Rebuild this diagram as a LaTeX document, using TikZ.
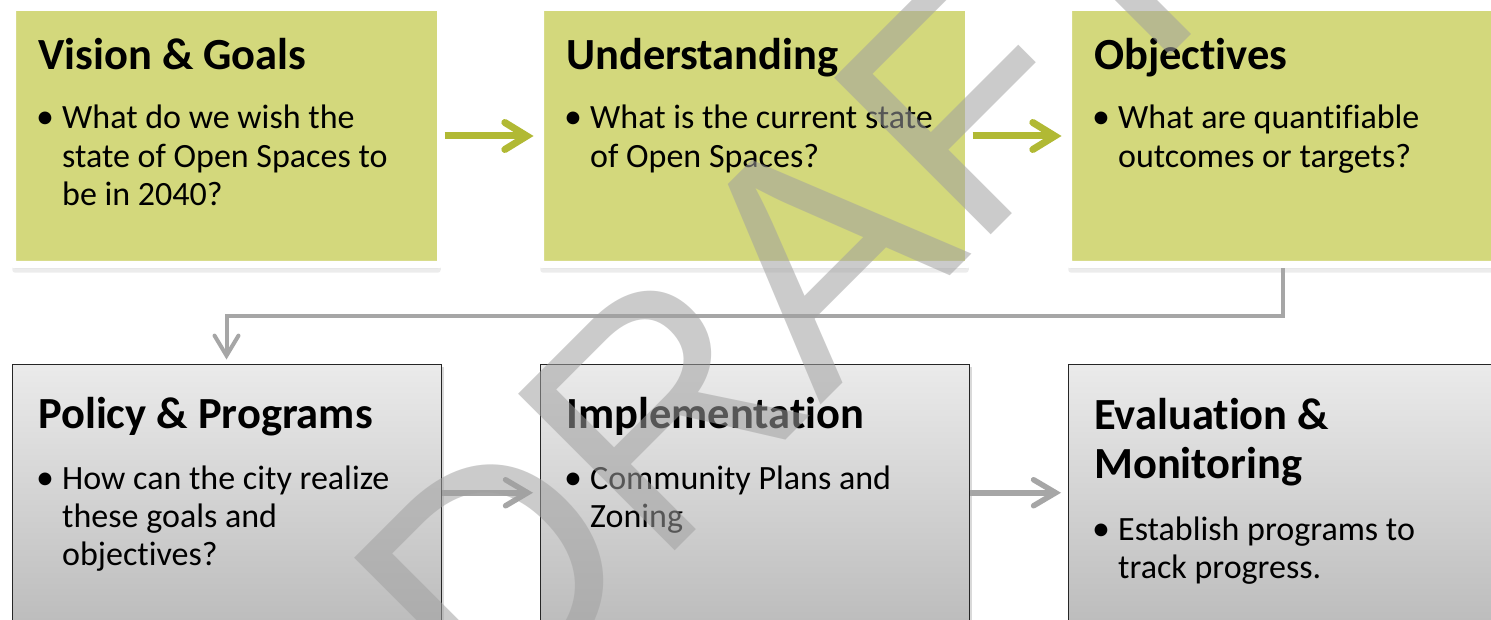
\documentclass[tikz,border=0pt]{standalone}
\usepackage{fontspec}
\setmainfont{Carlito}[Ligatures=NoCommon]
\newfontfamily\draftfont{Liberation Sans}
\usetikzlibrary{arrows.meta,shadows}
\definecolor{boxgreen}{RGB}{211,216,124}
\definecolor{arrowgreen}{RGB}{177,185,52}
\definecolor{arrowgray}{RGB}{166,166,166}
\definecolor{draftgray}{RGB}{160,160,160}

\begin{document}
\begin{tikzpicture}[x=1pt,y=-1pt,
		greenbox/.style={draw=white,line width=7.5pt,fill=boxgreen,rounded corners=3pt,inner sep=0pt,
			minimum width=428.5pt,minimum height=257.5pt,
			drop shadow={shadow xshift=0pt,shadow yshift=-4pt,opacity=.2,fill=black!60},
			drop shadow={shadow xshift=0pt,shadow yshift=-8pt,opacity=.12,fill=black!60}},
		graybox/.style={draw=black!85,line width=1pt,top color=black!8,bottom color=black!26,inner sep=0pt,
			minimum width=429pt,minimum height=257.5pt,
			drop shadow={shadow xshift=3pt,shadow yshift=-3pt,opacity=.15,fill=black}},
		title/.style={anchor=base west,inner sep=0pt,align=left,font=\bfseries\fontsize{44.5}{49}\selectfont},
		body/.style={anchor=base west,inner sep=0pt,align=left,font=\fontsize{34}{38.4}\selectfont},
		dot/.style={anchor=base,inner sep=0pt,font=\fontsize{36}{38.4}\selectfont},
		flow/.style={line width=7pt,arrowgreen,-{Straight Barb[length=22pt,width=27pt,line cap=round]},shorten >=3pt},
		grayflow/.style={line width=5.5pt,arrowgray,-{Straight Barb[length=22pt,width=26pt,line cap=round]},shorten >=6.5pt},
		elbow/.style={line width=4pt,arrowgray,-{Straight Barb[length=20pt,width=24pt,line cap=round]},shorten >=4pt},
		draftmark/.style={anchor=base west,inner sep=0pt,rotate=45,text=draftgray,text opacity=.54,
			font=\draftfont\fontsize{322}{322}\selectfont}]
	\useasboundingbox (0,0) rectangle (1491,620);
	\clip (0,0) rectangle (1491,620);
	\fill[white] (0,0) rectangle (1491,620);

	\node[greenbox] (vis) at (226.5,136) {};
	\node[greenbox] (und) at (754.5,136) {};
	\node[greenbox] (obj) at (1282.5,136) {};
	\node[graybox] (pol) at (226.5,492.75) {};
	\node[graybox] (imp) at (754.5,492.75) {};
	\node[graybox] (eva) at (1282.5,492.75) {};

	% multi-line texts sit on their last baseline
	\node[title] (vist) at (38,70) {Vision \& Goals};
	\node[dot] (visd) at (45,129) {\textbullet};
	\node[body] (visb) at (62,205.8) {What do we wish the\\state of Open Spaces to\\be in 2040?};
	\node[title] (undt) at (566,70) {Understanding};
	\node[dot] (undd) at (573,129) {\textbullet};
	\node[body] (undb) at (590,167.4) {What is the current state\\of Open Spaces?};
	\node[title] (objt) at (1094,70) {Objectives};
	\node[dot] (objd) at (1101,129) {\textbullet};
	\node[body] (objb) at (1118,167.4) {What are quantifiable\\outcomes or targets?};

	\node[title] (polt) at (38,428) {Policy \& Programs};
	\node[dot] (pold) at (45,489) {\textbullet};
	\node[body] (polb) at (62,565.8) {How can the city realize\\these goals and\\objectives?};
	\node[title] (impt) at (566,428) {Implementation};
	\node[dot] (impd) at (573,489) {\textbullet};
	\node[body] (impb) at (590,527.4) {Community Plans and\\Zoning};
	\node[title] (evat) at (1094,478) {Evaluation \&\\Monitoring};
	\node[dot] (evad) at (1101,540) {\textbullet};
	\node[body] (evab) at (1118,578.4) {Establish programs to\\track progress.};

	\draw[flow] (vis.east) -- (und.west);
	\draw[flow] (und.east) -- (obj.west);
	\draw[grayflow] (pol.east) -- (imp.west);
	\draw[grayflow] (imp.east) -- (eva.west);
	\draw[elbow] (obj.south) -- ([yshift=-47.5pt]obj.south) -| (pol.north);

	% watermark
	\node[draftmark] (draft) at (492,734) {DRAFT};
\end{tikzpicture}
\end{document}
